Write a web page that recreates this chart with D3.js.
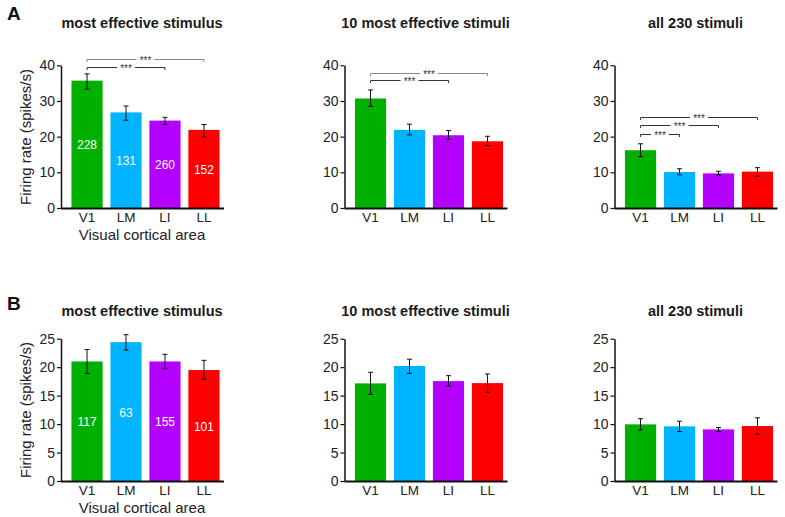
<!DOCTYPE html>
<html><head><meta charset="utf-8">
<script src="https://cdn.jsdelivr.net/npm/d3@7"></script>
<style>
body{margin:0;background:#fff;}
text{font-family:"Liberation Sans",Arial,Helvetica,sans-serif;}
</style></head>
<body><svg id="c" width="785" height="517"></svg>
<script>
const categories = ["V1","LM","LI","LL"];
const barColors = ["#00b000","#00b4ff","#b400ff","#ff0000"];
const panelTitles = ["most effective stimulus","10 most effective stimuli","all 230 stimuli"];
const rowLetters = ["A","B"];
const ticksA = [0,10,20,30,40];
const ticksB = [0,5,10,15,20,25];

// Row A means and error bounds
const a1Mean = [35.7, 26.8, 24.5, 21.9];
const a1Lo   = [33.3, 24.6, 23.4, 19.9];
const a1Hi   = [37.6, 28.6, 25.4, 23.4];
const a2Mean = [30.7, 21.9, 20.4, 18.7];
const a2Lo   = [28.5, 20.5, 19.2, 17.5];
const a2Hi   = [33.1, 23.5, 21.7, 20.1];
const a3Mean = [16.2, 10.1, 9.7, 10.2];
const a3Lo   = [14.4, 9.3, 9.25, 8.9];
const a3Hi   = [18.0, 11.0, 10.3, 11.3];
// Row B
const b1Mean = [21.0, 24.4, 21.0, 19.5];
const b1Lo   = [18.9, 23.0, 19.7, 17.9];
const b1Hi   = [23.1, 25.7, 22.25, 21.2];
const b2Mean = [17.15, 20.2, 17.55, 17.2];
const b2Lo   = [15.2, 18.9, 16.7, 15.6];
const b2Hi   = [19.1, 21.4, 18.5, 18.8];
const b3Mean = [9.95, 9.6, 9.07, 9.66];
const b3Lo   = [8.96, 8.7, 8.7, 8.2];
const b3Hi   = [10.95, 10.5, 9.4, 11.1];

const countsA = [228, 131, 260, 152];
const countsB = [117, 63, 155, 101];

// significance brackets: [from, to, level]
const sigA1 = [["V1","LI",39.6],["V1","LL",41.7]];
const sigA2 = [["V1","LI",35.9],["V1","LL",37.9]];
const sigA3 = [["V1","LM",20.7],["V1","LI",23.2],["V1","LL",25.4]];

const svg = d3.select("#c");
const font = '"Liberation Sans",Arial,Helvetica,sans-serif';

const axisXs = [61, 344.5, 614.5];
const rows = [
  {y0:208, yTop:65.3, max:40, ticks:ticksA, counts:countsA, letterY:20, titleY:27.5, catY:222, xlabY:240, ylabY:137,
   panels:[{m:a1Mean,lo:a1Lo,hi:a1Hi,sig:sigA1},{m:a2Mean,lo:a2Lo,hi:a2Hi,sig:sigA2},{m:a3Mean,lo:a3Lo,hi:a3Hi,sig:sigA3}]},
  {y0:481, yTop:338.7, max:25, ticks:ticksB, counts:countsB, letterY:310, titleY:316, catY:494.5, xlabY:512.5, ylabY:410,
   panels:[{m:b1Mean,lo:b1Lo,hi:b1Hi,sig:[]},{m:b2Mean,lo:b2Lo,hi:b2Hi,sig:[]},{m:b3Mean,lo:b3Lo,hi:b3Hi,sig:[]}]}
];

rows.forEach((row, ri) => {
  svg.append("text").attr("x", 7).attr("y", row.letterY).attr("font-size", 19).attr("font-weight", "bold")
    .attr("fill", "#111").text(rowLetters[ri]);
  row.panels.forEach((p, pi) => {
    const ax = axisXs[pi];
    const g = svg.append("g");
    const y = d3.scaleLinear().domain([0, row.max]).range([row.y0, row.yTop]);
    const x = d3.scaleBand().domain(categories).range([ax + 5, ax + 164]).paddingInner(0.2).paddingOuter(0.14);

    g.append("text").attr("x", ax + 81).attr("y", row.titleY).attr("text-anchor", "middle")
      .attr("font-size", 14.5).attr("font-weight", "bold").attr("fill", "#1a1a1a").text(panelTitles[pi]);

    g.selectAll("rect.bar").data(categories).join("rect")
      .attr("x", d => x(d)).attr("width", x.bandwidth())
      .attr("y", (d, i) => y(p.m[i])).attr("height", (d, i) => y(0) - y(p.m[i]))
      .attr("fill", (d, i) => barColors[i]);

    const cap = 2.5;
    categories.forEach((c, i) => {
      const cx = x(c) + x.bandwidth() / 2;
      g.append("line").attr("x1", cx).attr("x2", cx).attr("y1", y(p.lo[i])).attr("y2", y(p.hi[i]))
        .attr("stroke", "#111").attr("stroke-width", 1);
      [p.lo[i], p.hi[i]].forEach(v => {
        g.append("line").attr("x1", cx - cap).attr("x2", cx + cap).attr("y1", y(v)).attr("y2", y(v))
          .attr("stroke", "#111").attr("stroke-width", 1);
      });
    });

    if (pi === 0) {
      categories.forEach((c, i) => {
        g.append("text").attr("x", x(c) + x.bandwidth() / 2).attr("y", y(p.m[i] / 2) + 2)
          .attr("text-anchor", "middle").attr("dominant-baseline", "middle")
          .attr("font-size", 12).attr("fill", "#fff").text(row.counts[i]);
      });
    }

    const yAxis = d3.axisLeft(y).tickValues(row.ticks).tickSize(4).tickPadding(2).tickSizeOuter(0);
    const ya = g.append("g").attr("transform", `translate(${ax},0)`).call(yAxis);
    ya.select(".domain").attr("stroke", "#111").attr("stroke-width", 1.5);
    ya.selectAll(".tick line").attr("stroke", "#111").attr("stroke-width", 1.2);
    ya.selectAll(".tick text").attr("font-size", 14).attr("font-family", font).attr("fill", "#222");

    const xAxis = d3.axisBottom(x).tickSize(0).tickPadding(0).tickSizeOuter(0);
    const xa = g.append("g").attr("transform", `translate(0,${row.y0})`).call(xAxis);
    xa.select(".domain").remove();
    g.append("line").attr("x1", ax).attr("x2", ax + 163).attr("y1", row.y0 + 0.5).attr("y2", row.y0 + 0.5)
      .attr("stroke", "#111").attr("stroke-width", 2);
    xa.selectAll(".tick text").attr("font-size", 13.5).attr("font-family", font).attr("fill", "#222")
      .attr("y", row.catY - row.y0).attr("dy", 0);

    p.sig.forEach((s, si) => {
      const x1 = x(s[0]) + x.bandwidth() / 2, x2 = x(s[1]) + x.bandwidth() / 2;
      const ly = Math.round(y(s[2])) + 0.5;
      const col = (pi < 2 && si === p.sig.length - 1) ? "#888" : "#333";
      const mid = (x1 + x2) / 2, gap = 9;
      const path = `M${x1},${ly + 2.5}V${ly}H${mid - gap}M${mid + gap},${ly}H${x2}V${ly + 2.5}`;
      g.append("path").attr("d", path).attr("fill", "none").attr("stroke", col).attr("stroke-width", 1);
      g.append("text").attr("x", mid).attr("y", ly + 4.5).attr("text-anchor", "middle")
        .attr("font-size", 10).attr("fill", "#333").text("***");
    });

    if (pi === 0) {
      g.append("text").attr("transform", `translate(31,${row.ylabY}) rotate(-90)`).attr("text-anchor", "middle")
        .attr("font-size", 15).attr("fill", "#222").text("Firing rate (spikes/s)");
      g.append("text").attr("x", ax + 81).attr("y", row.xlabY).attr("text-anchor", "middle")
        .attr("font-size", 15).attr("fill", "#222").text("Visual cortical area");
    }
  });
});
</script></body></html>
